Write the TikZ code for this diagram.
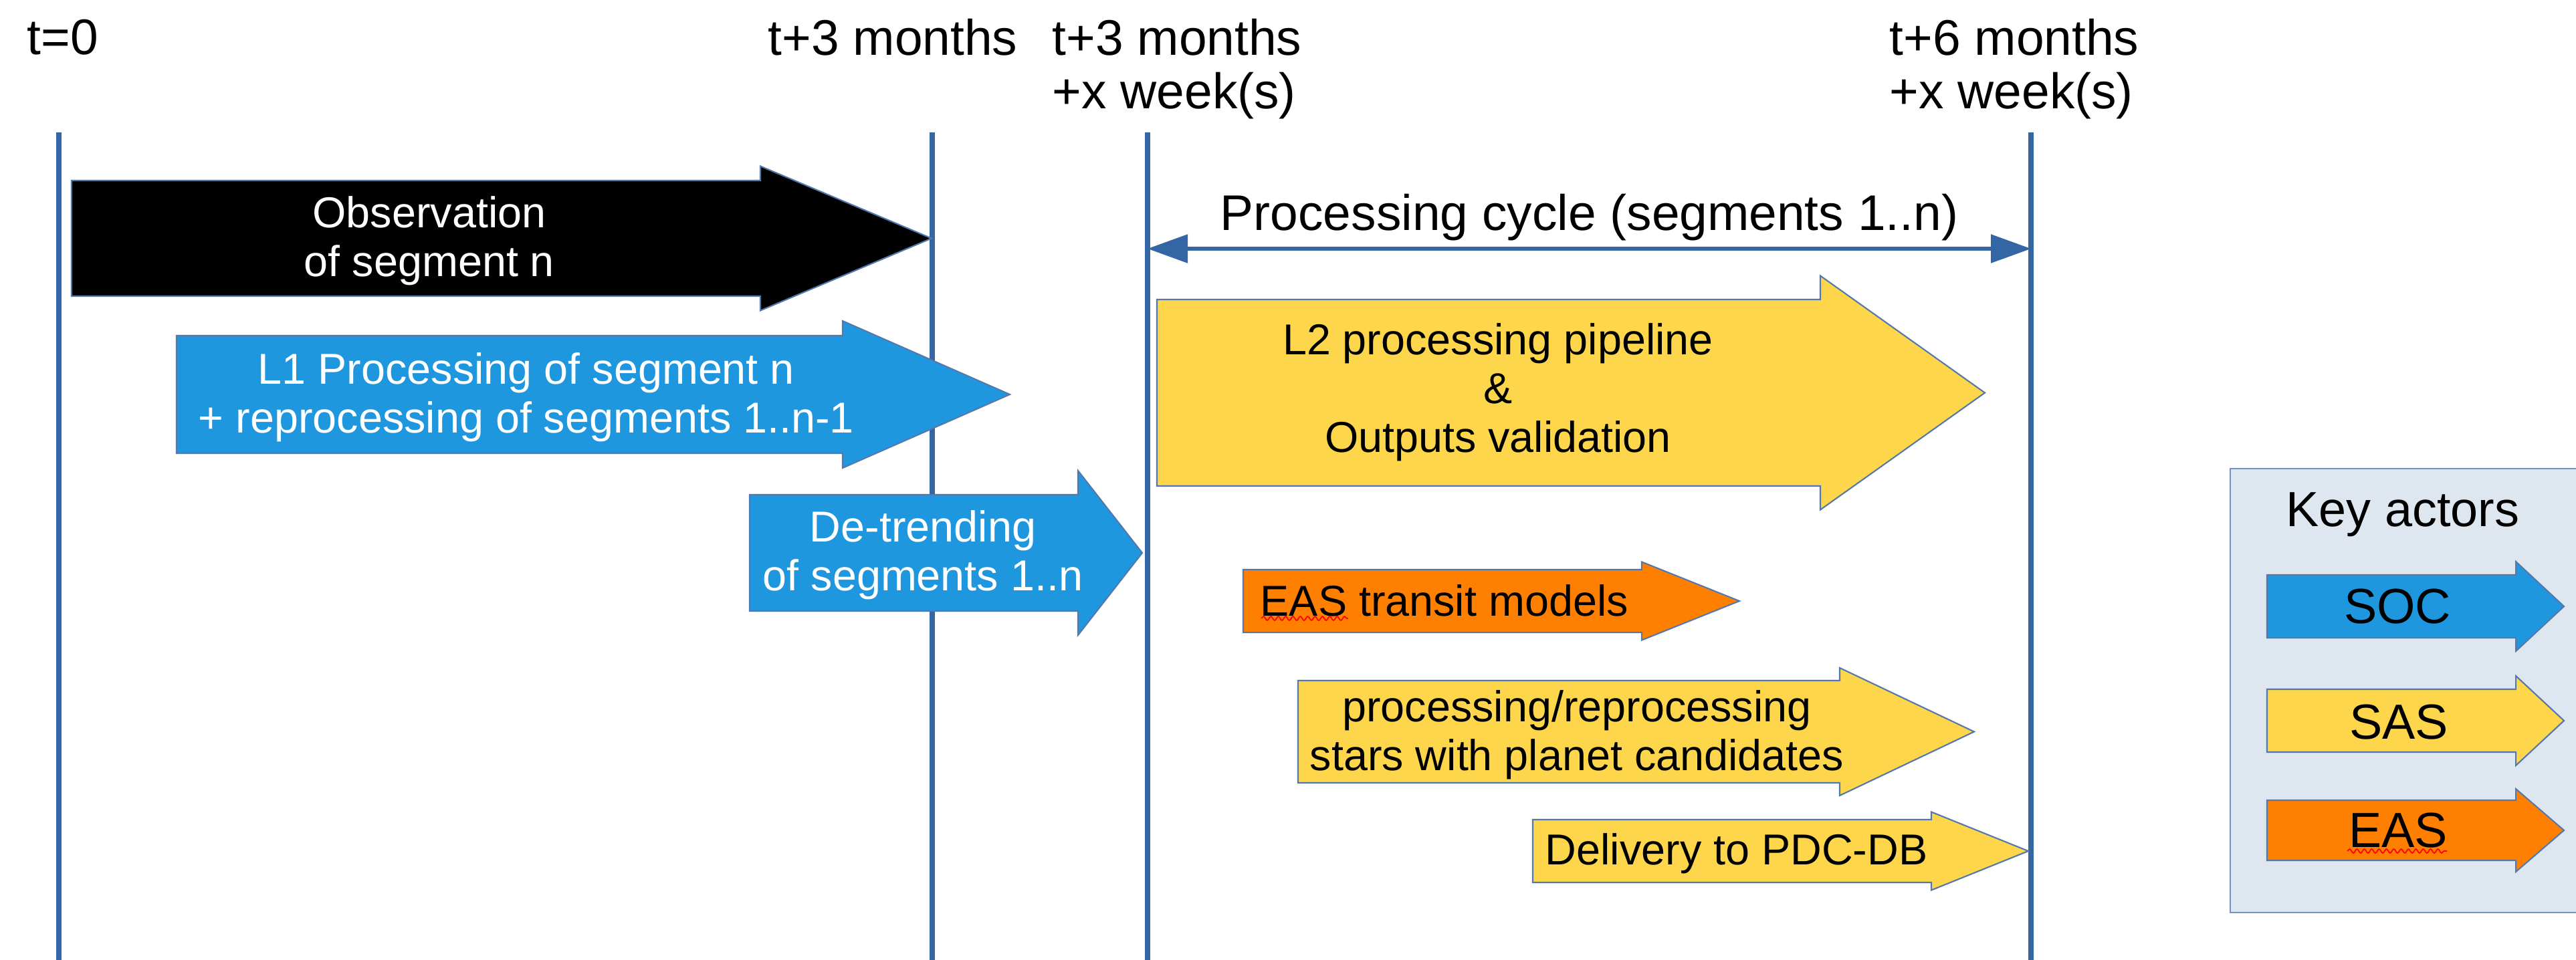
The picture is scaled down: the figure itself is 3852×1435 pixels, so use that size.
\documentclass[tikz,border=0pt]{standalone}
\usepackage{fontspec}
\setmainfont{Liberation Sans}
\usetikzlibrary{arrows.meta,decorations.pathmorphing}

\definecolor{tlblue}{RGB}{52,101,164}
\definecolor{edgeblue}{RGB}{84,120,172}
\definecolor{socblue}{RGB}{31,151,222}
\definecolor{sasyellow}{RGB}{254,214,75}
\definecolor{easorange}{RGB}{255,128,0}
\definecolor{keybg}{RGB}{222,230,239}
\definecolor{keyedge}{RGB}{114,146,196}

% fat block arrow: style, left x, head base x, tip x, centre y, body half height, head half height
\newcommand\fatarrow[7]{%
  \filldraw[#1] (#2,#5-#6) -- (#3,#5-#6) -- (#3,#5-#7) -- (#4,#5)
    -- (#3,#5+#7) -- (#3,#5+#6) -- (#2,#5+#6) -- cycle;}

\begin{document}
\begin{tikzpicture}[x=0.01cm,y=-0.01cm,
  timeline/.style={draw=tlblue,line width=2.3pt},
  cyclearrow/.style={draw=tlblue,line width=1.45pt,
    {Triangle[length=0.6cm,width=0.42cm]}-{Triangle[length=0.6cm,width=0.42cm]}},
  timelabel/.style={font=\fontsize{21.3pt}{22.6pt}\selectfont,inner sep=0,align=left},
  intext/.style={font=\fontsize{18.4pt}{20.8pt}\selectfont,inner sep=0,align=center},
  keytext/.style={font=\fontsize{21pt}{24pt}\selectfont,inner sep=0},
  obsarrow/.style={fill=black,draw=edgeblue,line width=0.6pt,line join=miter},
  socarrow/.style={fill=socblue,draw=edgeblue,line width=0.6pt,line join=miter},
  sasarrow/.style={fill=sasyellow,draw=edgeblue,line width=0.6pt,line join=miter},
  easarrow/.style={fill=easorange,draw=edgeblue,line width=0.6pt,line join=miter},
  spellmark/.style={draw=red,line width=0.5pt,decorate,
    decoration={snake,amplitude=0.03cm,segment length=0.11cm}}]
\useasboundingbox (0,0) rectangle (3852,1435);

% time axis labels
\node[timelabel,anchor=north west] (t0) at (40,28) {t=0};
\node[timelabel,anchor=north west] (t3) at (1148,28) {t+3 months};
\node[timelabel,anchor=north west] (t3w) at (1573,28) {t+3 months\\+x week(s)};
\node[timelabel,anchor=north west] (t6w) at (2825,28) {t+6 months\\+x week(s)};

% milestone lines
\coordinate (l0top) at (88,198);   \coordinate (l0bot) at (88,1440);
\coordinate (l3top) at (1394,198); \coordinate (l3bot) at (1394,1440);
\coordinate (l3wtop) at (1716,198); \coordinate (l3wbot) at (1716,1440);
\coordinate (l6top) at (3037,198); \coordinate (l6bot) at (3037,1440);
\draw[timeline] (l0top) -- (l0bot);
\draw[timeline] (l3top) -- (l3bot);
\draw[timeline] (l3wtop) -- (l3wbot);
\draw[timeline] (l6top) -- (l6bot);

% processing cycle span
\coordinate (cycA) at (1716,372);
\coordinate (cycB) at (3037,372);
\draw[cyclearrow] (cycA) -- (cycB)
  node[midway,anchor=base,yshift=0.28cm,timelabel] (cyclbl) {Processing cycle (segments 1..n)};

% activity arrows
\fatarrow{obsarrow}{107}{1137}{1393}{356.5}{86.5}{108}
\node[intext,text=white] (obs) at (642,360) {Observation\\of segment n};

\fatarrow{socarrow}{264}{1260}{1510}{590}{88}{110}
\node[intext,text=white] (l1) at (787,594) {L1 Processing of segment n\\+ reprocessing of segments 1..n-1};

\fatarrow{socarrow}{1121}{1612}{1708}{827}{87}{123}
\node[intext,text=white] (detrend) at (1380,830) {De-trending\\of segments 1..n};

\fatarrow{sasarrow}{1730}{2722}{2968}{587.5}{139.5}{175}
\node[intext] (l2) at (2240,587) {L2 processing pipeline\\\&\\Outputs validation};

\fatarrow{easarrow}{1859}{2455}{2601}{899}{47}{58.5}
\node[intext,anchor=west] (eas) at (1884,898) {EAS transit models};
\coordinate (easA) at (1886,925); \coordinate (easB) at (2016,925);
\draw[spellmark] (easA) -- (easB);

\fatarrow{sasarrow}{1941}{2751}{2952}{1094.5}{76.5}{95.5}
\node[intext] (stars) at (2358,1099) {processing/reprocessing\\stars with planet candidates};

\fatarrow{sasarrow}{2292}{2888}{3033}{1273}{47}{58.5}
\node[intext,anchor=west] (pdc) at (2310,1277) {Delivery to PDC-DB};

% key
\filldraw[fill=keybg,draw=keyedge,line width=0.8pt] (3335,701) rectangle (3900,1365);
\node[keytext] (keytitle) at (3593,770) {Key actors};
\fatarrow{socarrow}{3390}{3762}{3834}{907}{47}{67}
\node[keytext] (keysoc) at (3585,907) {SOC};
\fatarrow{sasarrow}{3390}{3762}{3834}{1078}{47}{67}
\node[keytext] (keysas) at (3587,1080) {SAS};
\fatarrow{easarrow}{3390}{3762}{3834}{1242}{45}{62}
\node[keytext] (keyeas) at (3586,1242) {EAS};
\coordinate (keyeasA) at (3510,1273); \coordinate (keyeasB) at (3659,1273);
\draw[spellmark] (keyeasA) -- (keyeasB);
\end{tikzpicture}
\end{document}
